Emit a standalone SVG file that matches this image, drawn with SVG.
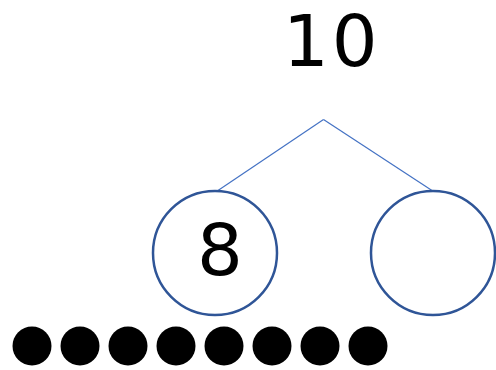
<svg xmlns="http://www.w3.org/2000/svg" width="496" height="370" viewBox="0 0 496 370">
<style>
.num{font-family:"URW Gothic","Century Gothic","DejaVu Sans","Liberation Sans",sans-serif;fill:#000}
.part{fill:#fff;stroke:#2F5597;stroke-width:2.5}
.conn{stroke:#4472C4;stroke-width:1.2;fill:none}
.dot{fill:#000}
</style>
<rect width="496" height="370" fill="#fff"/>
<g id="connectors">
<line class="conn" x1="323.5" y1="119.5" x2="216.5" y2="191.5"/>
<line class="conn" x1="323.5" y1="119.5" x2="433.5" y2="191.5"/>
</g>
<g id="whole">
<text class="num" x="283" y="66" font-size="72" letter-spacing="3">10</text>
</g>
<g id="part-left">
<circle class="part" cx="215" cy="253" r="62"/>
<text class="num" x="220" y="275" font-size="72" text-anchor="middle">8</text>
</g>
<g id="part-right">
<circle class="part" cx="433" cy="253" r="62"/>
</g>
<g id="dots">
<circle class="dot" cx="32" cy="346" r="19.5"/>
<circle class="dot" cx="80" cy="346" r="19.5"/>
<circle class="dot" cx="128" cy="346" r="19.5"/>
<circle class="dot" cx="176" cy="346" r="19.5"/>
<circle class="dot" cx="224" cy="346" r="19.5"/>
<circle class="dot" cx="272" cy="346" r="19.5"/>
<circle class="dot" cx="320" cy="346" r="19.5"/>
<circle class="dot" cx="368" cy="346" r="19.5"/>
</g>
</svg>
